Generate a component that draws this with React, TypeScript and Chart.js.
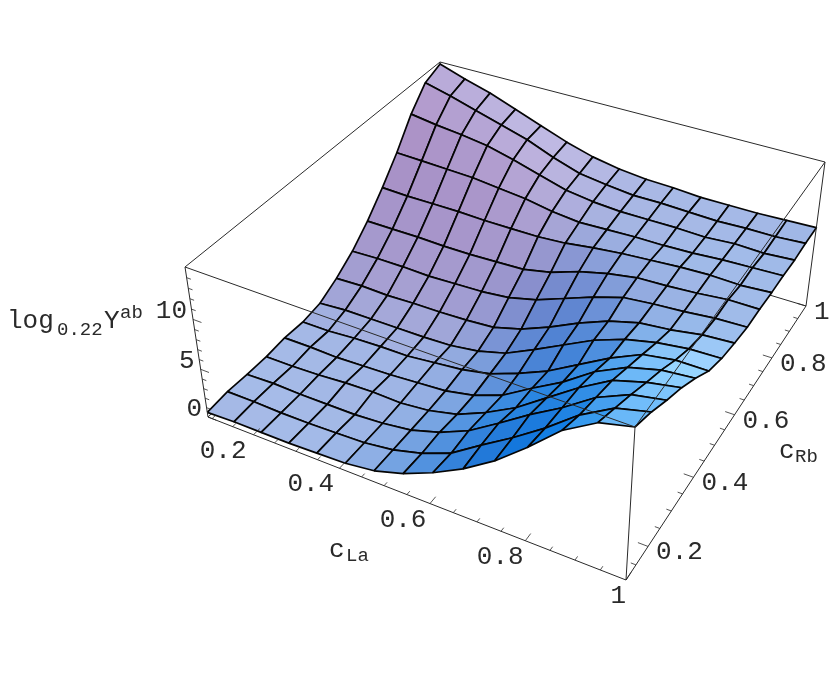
import React, { useEffect, useRef } from "react";
import { Chart, registerables } from "chart.js";
Chart.register(...registerables);

// log_0.22 Y^ab, one row per c_Rb grid value, one column per c_La grid value
const cLaGrid = [0.09,0.155,0.22,0.285,0.35,0.415,0.48,0.545,0.61,0.675,0.74,0.805,0.87,0.935,1];
const cRbGrid = [0.11,0.174,0.237,0.301,0.364,0.428,0.491,0.555,0.619,0.682,0.746,0.809,0.873,0.936,1];
const zRb00 = [0.5,0.6,0.6,0.6,0.7,0.8,1.2,2.1,3.4,5.0,7.0,9.5,12.3,14.2,15.0];
const zRb01 = [0.7,0.7,0.6,0.6,0.7,0.8,1.2,2.0,3.2,5.2,7.1,9.2,11.6,13.4,14.2];
const zRb02 = [0.6,0.7,0.6,0.6,0.6,0.8,1.2,2.1,3.4,5.3,7.3,9.1,11.2,12.6,13.2];
const zRb03 = [0.6,0.6,0.7,0.9,1.0,0.9,1.2,1.9,3.2,4.8,6.9,9.0,10.8,11.7,12.3];
const zRb04 = [0.8,0.8,0.7,0.8,0.9,1.1,1.3,1.9,3.0,4.8,6.5,8.6,10.1,10.9,11.2];
const zRb05 = [0.7,0.7,0.9,1.0,1.0,1.3,1.6,2.2,3.3,4.6,6.3,8.0,9.4,9.9,9.9];
const zRb06 = [1.0,1.2,1.2,1.2,1.2,1.3,1.7,2.5,3.9,5.4,6.9,8.0,8.7,9.1,9.2];
const zRb07 = [2.0,2.1,2.0,2.1,2.1,2.2,2.4,3.2,4.4,5.8,7.0,7.8,8.1,8.6,8.8];
const zRb08 = [3.3,3.4,3.4,3.3,3.4,3.5,3.8,4.5,5.6,6.7,7.6,7.9,8.1,8.4,8.5];
const zRb09 = [5.0,5.0,5.0,4.9,4.9,5.0,5.1,5.7,6.7,7.4,7.9,8.0,8.2,8.5,8.5];
const zRb10 = [7.1,7.0,7.0,7.0,6.9,6.9,6.9,7.1,7.5,7.8,8.0,8.2,8.3,8.2,8.4];
const zRb11 = [9.4,9.3,9.2,9.1,8.8,8.5,8.0,7.7,7.8,7.9,7.9,8.0,8.2,8.3,8.4];
const zRb12 = [12.1,11.7,11.4,11.0,10.3,9.5,8.7,8.3,8.1,8.1,8.1,8.0,8.2,8.1,8.3];
const zRb13 = [14.1,13.4,12.6,11.8,11.0,9.9,9.0,8.6,8.3,8.3,8.2,8.1,8.2,8.2,8.4];
const zRb14 = [14.8,13.9,13.1,12.1,11.1,10.1,9.3,8.8,8.5,8.4,8.2,8.2,8.2,8.3,8.4];
const zRows = [zRb00,zRb01,zRb02,zRb03,zRb04,zRb05,zRb06,zRb07,zRb08,zRb09,zRb10,zRb11,zRb12,zRb13,zRb14];

const cLaTicksMajor = [0.2,0.4,0.6,0.8,1];
const cLaTicksMinor = [0.1,0.15,0.25,0.3,0.35,0.45,0.5,0.55,0.65,0.7,0.75,0.85,0.9,0.95];
const cRbTicksMajor = [0.2,0.4,0.6,0.8,1];
const cRbTicksMinor = [0.15,0.25,0.3,0.35,0.45,0.5,0.55,0.65,0.7,0.75,0.85,0.9,0.95];
const zTicksMajor = [0,5,10];
const zTicksMinor = [1,2,3,4,6,7,8,9,11,12,13,14];

const zTop = 15, laMin = 0.09, rbMin = 0.11;
type P = [number, number];

// Box corners of the perspective view, [c_La,c_Rb]: (min,min) (max,min) (max,max) (min,max)
const floorQuad: P[] = [[208,417],[626,580],[806,306],[445,197]];
const topQuad: P[] = [[185,267],[635,427],[825,162],[440,62]];

function quad(q: P[], u: number, v: number): P {
  const [p0,p1,p2,p3] = q;
  const dx1=p1[0]-p2[0],dx2=p3[0]-p2[0],sx=p0[0]-p1[0]+p2[0]-p3[0];
  const dy1=p1[1]-p2[1],dy2=p3[1]-p2[1],sy=p0[1]-p1[1]+p2[1]-p3[1];
  const det=dx1*dy2-dx2*dy1;
  const g=(sx*dy2-dx2*sy)/det,h=(dx1*sy-sx*dy1)/det;
  const a=p1[0]-p0[0]+g*p1[0],b=p3[0]-p0[0]+h*p3[0],c=p0[0];
  const d=p1[1]-p0[1]+g*p1[1],e=p3[1]-p0[1]+h*p3[1],f=p0[1];
  const w=g*u+h*v+1;
  return [(a*u+b*v+c)/w,(d*u+e*v+f)/w];
}
function project(la: number, rb: number, z: number) {
  const u=(la-laMin)/(1-laMin), v=(rb-rbMin)/(1-rbMin), w=z/zTop;
  const F=quad(floorQuad,u,v), T=quad(topQuad,u,v);
  const dt=1-0.1372*u+0.2365*v, db=dt+0.0735;
  const wb=(1-w)*db, wt=w*dt, s=wb+wt;
  return { x:(wb*F[0]+wt*T[0])/s, y:(wb*F[1]+wt*T[1])/s };
}

// Shading from the facet's local slope (box ratios 1:1:0.4), taken over its neighbours
function cellColor(i: number, j: number) {
  const k=0.4*14/zTop;
  const z=(a:number,b:number)=>zRows[Math.max(0,Math.min(14,b))][Math.max(0,Math.min(14,a))];
  let du=0,dv=0,cnt=0;
  for(let b=-1;b<=1;b++) for(let a=-1;a<=1;a++){
    const ii=Math.max(0,Math.min(13,i+a)), jj=Math.max(0,Math.min(13,j+b));
    const wgt=(a===0?2:1)*(b===0?2:1);
    du+=wgt*(z(ii+1,jj)+z(ii+1,jj+1)-z(ii,jj)-z(ii,jj+1))/2;
    dv+=wgt*(z(ii,jj+1)+z(ii+1,jj+1)-z(ii,jj)-z(ii+1,jj))/2;
    cnt+=wgt;
  }
  const sx=-k*du/cnt, sy=-k*dv/cnt, len=Math.hypot(sx,sy,1);
  const nx=sx/len, ny=sy/len;
  const lo=(a:number)=>Math.min(a,0), hi=(a:number)=>Math.max(a,0);
  const R=0.65+0.45*lo(nx)-0.7*lo(nx)*lo(nx)+0.3*hi(nx);
  const G=0.735+0.25*lo(nx)-0.3*lo(nx)*lo(nx)+0.05*hi(nx)+0.255*lo(ny)+0.4*hi(ny);
  const B=0.91+0.09*lo(nx)+0.2*lo(ny)+0.35*hi(ny);
  const ch=[R,G,B].map(c=>Math.round(255*Math.min(1,Math.max(0,c))));
  return `rgb(${ch[0]},${ch[1]},${ch[2]})`;
}
const lineDs=(pts:{x:number,y:number}[],order:number,width=1,color="#2a2a2a")=>({
  type:"scatter" as const,data:pts,showLine:true,borderColor:color,borderWidth:width,
  pointRadius:0,fill:false,order,clip:false,tension:0,
});
const LA0=laMin,LA1=1,RB0=rbMin,RB1=1;
function buildDatasets(){
  const ds:any[]=[];
  let ord=100000;
  const back:[number,number,number][][]=[
    [[LA0,RB0,zTop],[LA0,RB1,zTop]],[[LA0,RB1,zTop],[LA1,RB1,zTop]],
    [[LA0,RB1,0],[LA1,RB1,0]],[[LA0,RB0,0],[LA0,RB1,0]],[[LA0,RB1,0],[LA0,RB1,zTop]],
  ];
  back.forEach(s=>ds.push(lineDs(s.map(p=>project(p[0],p[1],p[2])),ord--)));
  for(let j=13;j>=0;j--) for(let i=0;i<14;i++){
    const pts=[[i,j],[i+1,j],[i+1,j+1],[i,j+1],[i,j]].map(([a,b])=>project(cLaGrid[a],cRbGrid[b],zRows[b][a]));
    ds.push({type:"scatter",data:pts,showLine:true,backgroundColor:cellColor(i,j),borderColor:"#050505",borderWidth:1.7,
      borderJoinStyle:"round",pointRadius:0,fill:"shape",order:ord--,clip:false,tension:0});
  }
  const front:[number,number,number][][]=[
    [[LA0,RB0,zTop],[LA1,RB0,zTop]],[[LA1,RB0,zTop],[LA1,RB1,zTop]],
    [[LA0,RB0,0],[LA0,RB0,zTop]],[[LA1,RB1,0],[LA1,RB1,zTop]],
    [[LA0,RB0,0],[LA1,RB0,0]],[[LA1,RB0,0],[LA1,RB1,0]],[[LA1,RB0,0],[LA1,RB0,zTop]],
  ];
  front.forEach(s=>ds.push(lineDs(s.map(p=>project(p[0],p[1],p[2])),ord--)));
  const tick=(a:[number,number,number],b:[number,number,number])=>ds.push(lineDs([project(...a),project(...b)],ord--,0.8));
  cLaTicksMajor.forEach(c=>tick([c,RB0,0],[c,RB0+0.02,0]));
  cLaTicksMinor.forEach(c=>tick([c,RB0,0],[c,RB0+0.01,0]));
  cRbTicksMajor.forEach(c=>tick([LA1,c,0],[LA1-0.02,c,0]));
  cRbTicksMinor.forEach(c=>tick([LA1,c,0],[LA1-0.01,c,0]));
  zTicksMajor.forEach(z=>tick([LA0,RB0,z],[LA0+0.02,RB0,z]));
  zTicksMinor.forEach(z=>tick([LA0,RB0,z],[LA0+0.01,RB0,z]));
  return ds;
}
const MAIN="26px 'Liberation Mono'", SUB="19px 'Liberation Mono'", INK="#2a2a2a";
const labels={
  id:"labels",
  afterDraw(chart:any){
    const c=chart.ctx,sx=chart.scales.x,sy=chart.scales.y;
    const put=(t:string,x:number,y:number,font:string,align:CanvasTextAlign="left")=>{
      c.font=font;c.fillStyle=INK;c.textAlign=align;c.textBaseline="alphabetic";c.fillText(t,x,y);
    };
    const txt=(t:number)=>String(t);
    cLaTicksMajor.forEach(v=>{
      const p=project(v,RB0,0);
      put(txt(v),sx.getPixelForValue(p.x)-7+7*(v-0.2)/0.8,sy.getPixelForValue(p.y)+23,MAIN,"right");
    });
    cRbTicksMajor.forEach(v=>{
      const p=project(LA1,v,0);
      put(txt(v),sx.getPixelForValue(p.x)+8,sy.getPixelForValue(p.y)+13,MAIN,"left");
    });
    zTicksMajor.forEach(v=>{
      const p=project(LA0,RB0,v);
      put(txt(v),sx.getPixelForValue(p.x)-6,sy.getPixelForValue(p.y)-1,MAIN,"right");
    });
    put("log",7,328,MAIN);put("0.22",57,335,SUB);put("Y",104,328,MAIN);put("ab",120,318,SUB);
    put("c",329,557,MAIN);put("La",346,561,SUB);
    put("c",779,458,MAIN);put("Rb",795,462,SUB);
  },
};
export default function App(){
  const ref=useRef<HTMLCanvasElement>(null);
  useEffect(()=>{
    const c=new Chart(ref.current!,{
      type:"scatter",
      data:{datasets:buildDatasets()},
      options:{animation:false,responsive:false,
        layout:{padding:0},
        plugins:{legend:{display:false},tooltip:{enabled:false},filler:{propagate:false,drawTime:"beforeDatasetDraw"}},
        scales:{x:{type:"linear",min:0,max:830,display:false},y:{type:"linear",min:0,max:674,reverse:true,display:false}},
      },
      plugins:[labels],
    } as any);
    return ()=>c.destroy();
  },[]);
  return <div style={{position:"absolute",left:0,top:0,width:830,height:674,background:"#fff"}}>
    <canvas ref={ref} width={830} height={674} style={{display:"block"}}/>
  </div>;
}
